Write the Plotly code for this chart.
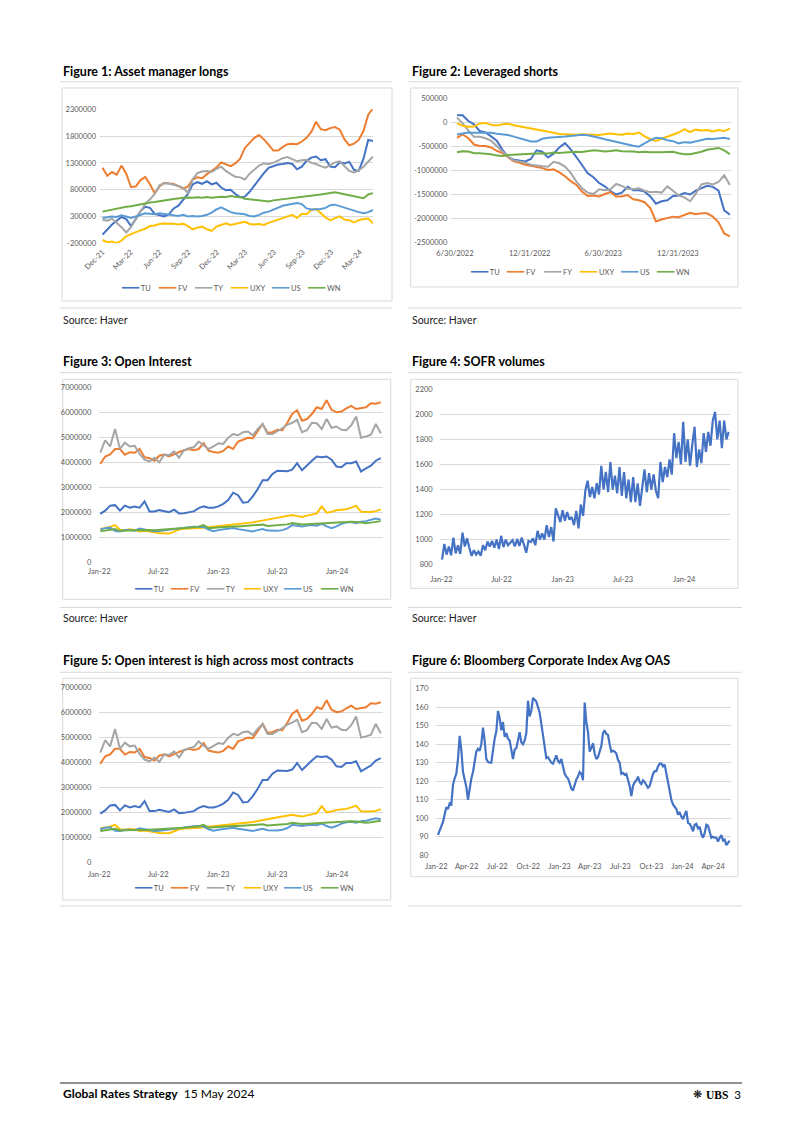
import pandas as pd
import plotly.graph_objects as go

W, H = 802, 1134
FONT = "Lato"
TXT = "#595959"
GRID = "#d9d9d9"
COL = {"TU": "#4472C4", "FV": "#ED7D31", "TY": "#A5A5A5", "FY": "#A5A5A5",
       "UXY": "#FFC000", "US": "#5B9BD5", "WN": "#70AD47"}

# ---------------- Figure 1: Asset manager longs (thousands of contracts, semi-monthly)
f1_TU = [-40, 60, 150, 220, 290, 250, 120, 250, 400, 480, 460, 350, 320, 300, 340, 450, 500, 600, 720, 900,
         940, 910, 960, 900, 930, 840, 790, 800, 720, 660, 670, 760, 880, 1000, 1110, 1210, 1240, 1270, 1280, 1300,
         1280, 1180, 1230, 1340, 1400, 1420, 1350, 1370, 1230, 1220, 1310, 1290, 1320, 1170, 1150, 1380, 1730, 1710]
f1_FV = [1210, 1060, 1130, 1080, 1250, 1100, 850, 860, 980, 1040, 900, 730, 860, 930, 915, 905, 865, 820, 860, 990,
         1030, 1015, 1090, 1150, 1215, 1310, 1280, 1240, 1290, 1380, 1580, 1680, 1770, 1820, 1740, 1640, 1530, 1530, 1600, 1650,
         1660, 1650, 1700, 1770, 1880, 2070, 1930, 1910, 1950, 1970, 1920, 1740, 1630, 1660, 1730, 1900, 2200, 2320]
f1_TY = [240, 220, 260, 180, 100, 0, 100, 250, 400, 530, 620, 720, 880, 920, 915, 890, 870, 830, 740, 990,
         1110, 1140, 1150, 1130, 1190, 1230, 1150, 1090, 1040, 1030, 990, 1100, 1180, 1250, 1290, 1280, 1300, 1350, 1390, 1410,
         1370, 1330, 1350, 1360, 1300, 1280, 1240, 1210, 1260, 1310, 1330, 1230, 1150, 1120, 1160, 1230, 1330, 1420]
f1_UXY = [-140, -180, -170, -200, -150, -70, -30, 10, 40, 70, 120, 130, 160, 170, 170, 165, 150, 165, 120, 60,
          90, 110, 60, 30, 110, 140, 170, 140, 160, 190, 200, 160, 150, 160, 140, 180, 210, 240, 270, 300,
          330, 270, 350, 340, 420, 440, 360, 280, 230, 270, 300, 240, 230, 190, 230, 250, 260, 170]
f1_US = [270, 280, 300, 290, 320, 300, 270, 300, 330, 360, 350, 340, 360, 350, 340, 330, 310, 330, 300, 310,
         300, 310, 330, 370, 430, 470, 420, 380, 360, 350, 340, 310, 300, 330, 370, 390, 430, 470, 500, 520,
         540, 550, 530, 450, 430, 430, 440, 460, 510, 520, 490, 460, 430, 410, 380, 360, 380, 420]
f1_WN = [390, 410, 430, 450, 470, 480, 490, 510, 520, 540, 560, 570, 580, 600, 610, 625, 640, 650, 655, 650,
         660, 650, 665, 650, 660, 670, 665, 680, 670, 660, 630, 620, 610, 600, 590, 580, 600, 610, 620, 630,
         640, 650, 660, 670, 680, 690, 710, 725, 740, 750, 735, 715, 700, 670, 650, 640, 710, 735]
f1_names = ["TU", "FV", "TY", "UXY", "US", "WN"]
f1_xticks = ["2021-12-01", "2022-03-01", "2022-06-01", "2022-09-01", "2022-12-01", "2023-03-01",
             "2023-06-01", "2023-09-01", "2023-12-01", "2024-03-01"]
f1_xlabels = ["Dec-21", "Mar-22", "Jun-22", "Sep-22", "Dec-22", "Mar-23", "Jun-23", "Sep-23", "Dec-23", "Mar-24"]
f1_yticks = [-200000, 300000, 800000, 1300000, 1800000, 2300000]

# ---------------- Figure 2: Leveraged shorts (thousands, bi-weekly)
f2_TU = [150, 150, 30, -40, -180, -210, -290, -380, -570, -720, -775, -790, -810, -760, -580, -610, -730, -650, -520, -430,
         -560, -720, -885, -1060, -1140, -1260, -1330, -1430, -1500, -1460, -1340, -1410, -1410, -1440, -1540, -1690, -1640, -1620, -1530, -1520,
         -1470, -1500, -1420, -1370, -1320, -1340, -1420, -1830, -1920]
f2_FV = [-320, -250, -330, -460, -490, -490, -520, -590, -640, -720, -810, -840, -880, -900, -920, -950, -990, -975, -1040, -1120,
         -1220, -1300, -1440, -1530, -1520, -1540, -1490, -1450, -1540, -1540, -1510, -1600, -1620, -1660, -1780, -2060, -2020, -1990, -1960, -1970,
         -1920, -1880, -1910, -1890, -1890, -1960, -2080, -2310, -2370]
f2_FY = [100, -20, -170, -300, -300, -330, -380, -500, -620, -720, -790, -810, -840, -880, -900, -910, -920, -820, -850, -920,
         -1050, -1230, -1370, -1460, -1490, -1390, -1410, -1390, -1280, -1320, -1380, -1390, -1370, -1420, -1450, -1440, -1460, -1330, -1420, -1520,
         -1560, -1640, -1480, -1290, -1260, -1290, -1240, -1100, -1300]
f2_UXY = [-20, -70, -90, -85, -20, -10, -50, -65, -40, -30, -60, -80, -110, -135, -155, -160, -185, -215, -240, -250,
          -260, -255, -245, -250, -250, -260, -245, -230, -245, -255, -230, -240, -210, -290, -350, -385, -340, -300, -250, -210,
          -140, -200, -150, -170, -160, -190, -160, -180, -130]
f2_US = [-250, -225, -210, -215, -210, -220, -215, -235, -245, -260, -295, -330, -370, -395, -395, -340, -320, -315, -300, -295,
         -280, -265, -255, -265, -300, -320, -350, -380, -410, -435, -460, -485, -505, -430, -370, -320, -330, -370, -390, -435,
         -410, -420, -390, -360, -340, -345, -330, -320, -345]
f2_WN = [-620, -600, -605, -640, -640, -645, -660, -690, -700, -680, -670, -665, -660, -655, -645, -640, -645, -625, -635, -625,
         -615, -610, -615, -600, -580, -590, -605, -595, -580, -600, -595, -605, -620, -610, -620, -625, -620, -615, -610, -640,
         -660, -660, -640, -610, -570, -550, -530, -580, -660]
f2_names = ["TU", "FV", "FY", "UXY", "US", "WN"]
f2_xticks = ["2022-06-30", "2022-12-31", "2023-06-30", "2023-12-31"]
f2_xlabels = ["6/30/2022", "12/31/2022", "6/30/2023", "12/31/2023"]
f2_yticks = [-2500000, -2000000, -1500000, -1000000, -500000, 0, 500000]

# ---------------- Figures 3 & 5: Open interest (millions of contracts, semi-monthly)
oi_TU = [1.95, 2.08, 2.28, 2.30, 2.08, 2.28, 2.20, 2.25, 2.20, 2.45, 2.05, 2.05, 2.10, 2.07, 2.02, 2.12, 1.97, 1.98, 2.03, 2.05,
         2.18, 2.25, 2.20, 2.20, 2.25, 2.35, 2.50, 2.80, 2.70, 2.40, 2.42, 2.65, 2.95, 3.30, 3.30, 3.55, 3.68, 3.68, 3.66, 3.72,
         3.98, 3.70, 3.90, 4.08, 4.25, 4.22, 4.25, 4.12, 3.85, 3.82, 3.98, 3.98, 4.05, 3.65, 3.77, 3.88, 4.08, 4.18]
oi_FV = [3.95, 4.25, 4.33, 4.55, 4.55, 4.32, 4.42, 4.40, 4.55, 4.22, 4.18, 4.08, 4.28, 4.33, 4.25, 4.35, 4.43, 4.50, 4.55, 4.50,
         4.55, 4.78, 4.48, 4.43, 4.40, 4.47, 4.65, 4.55, 4.85, 4.92, 5.00, 4.98, 5.25, 5.55, 5.20, 5.22, 5.32, 5.30, 5.60, 5.95,
         6.10, 5.68, 5.75, 5.95, 6.22, 6.15, 6.50, 6.12, 6.02, 6.05, 6.18, 6.28, 6.15, 6.18, 6.22, 6.38, 6.36, 6.42]
oi_TY = [4.40, 4.90, 4.65, 5.35, 4.55, 4.80, 4.65, 4.68, 4.35, 4.12, 4.05, 4.20, 4.02, 4.33, 4.30, 4.45, 4.20, 4.50, 4.58, 4.62,
         4.85, 4.68, 4.55, 4.65, 4.78, 4.75, 5.00, 5.15, 5.10, 5.22, 5.25, 5.10, 5.35, 5.55, 5.15, 5.15, 5.25, 5.38, 5.52, 5.60,
         5.72, 5.22, 5.30, 5.60, 5.58, 5.35, 5.75, 5.40, 5.45, 5.32, 5.30, 5.50, 5.85, 5.00, 5.05, 5.12, 5.55, 5.18]
oi_UXY = [1.35, 1.38, 1.43, 1.50, 1.32, 1.30, 1.33, 1.31, 1.25, 1.27, 1.25, 1.21, 1.17, 1.15, 1.16, 1.24, 1.32, 1.35, 1.37, 1.38,
          1.38, 1.40, 1.42, 1.43, 1.45, 1.47, 1.50, 1.53, 1.56, 1.57, 1.58, 1.61, 1.65, 1.70, 1.72, 1.76, 1.79, 1.82, 1.84, 1.90,
          1.86, 1.83, 1.88, 1.93, 1.97, 2.25, 2.00, 2.03, 2.10, 2.12, 2.14, 2.20, 2.27, 2.04, 2.02, 2.03, 2.06, 2.13]
oi_US = [1.32, 1.38, 1.40, 1.26, 1.25, 1.30, 1.30, 1.28, 1.36, 1.32, 1.26, 1.25, 1.26, 1.29, 1.31, 1.32, 1.36, 1.40, 1.42, 1.44,
         1.45, 1.43, 1.32, 1.26, 1.30, 1.32, 1.36, 1.38, 1.34, 1.30, 1.27, 1.25, 1.30, 1.34, 1.28, 1.26, 1.27, 1.30, 1.37, 1.50,
         1.47, 1.45, 1.48, 1.50, 1.48, 1.55, 1.45, 1.38, 1.45, 1.55, 1.60, 1.62, 1.58, 1.64, 1.66, 1.70, 1.76, 1.72]
oi_WN = [1.25, 1.28, 1.30, 1.34, 1.27, 1.28, 1.29, 1.28, 1.30, 1.29, 1.30, 1.29, 1.30, 1.31, 1.32, 1.34, 1.36, 1.38, 1.40, 1.42,
         1.44, 1.50, 1.38, 1.40, 1.42, 1.43, 1.44, 1.45, 1.45, 1.46, 1.47, 1.48, 1.50, 1.52, 1.47, 1.48, 1.50, 1.52, 1.53, 1.58,
         1.55, 1.53, 1.54, 1.55, 1.56, 1.57, 1.58, 1.60, 1.62, 1.63, 1.65, 1.64, 1.63, 1.60, 1.58, 1.60, 1.62, 1.66]
oi_names = ["TU", "FV", "TY", "UXY", "US", "WN"]
oi_xticks = ["2022-01-01", "2022-07-01", "2023-01-01", "2023-07-01", "2024-01-01"]
oi_xlabels = ["Jan-22", "Jul-22", "Jan-23", "Jul-23", "Jan-24"]
oi_yticks = [0, 1000000, 2000000, 3000000, 4000000, 5000000, 6000000, 7000000]

# ---------------- Figure 4: SOFR volumes (weekly readings)
sofr = [840, 965, 880, 945, 875, 1015, 890, 955, 885, 1055, 945, 1010, 935, 870, 915, 880, 905, 870,
        955, 915, 985, 945, 990, 935, 1000, 925, 1030, 940, 1000, 955, 975, 995, 945, 1005, 950,
        1015, 960, 895, 990, 980, 1010, 955, 1070, 1000, 1050, 1000, 1115, 1020, 1100, 985, 1250, 1190,
        1140, 1235, 1150, 1220, 1160, 1180, 1115, 1230, 1090, 1280, 1190, 1390, 1470, 1340,
        1420, 1330, 1450, 1360, 1590, 1400, 1540, 1380, 1620, 1400, 1510, 1370, 1580,
        1350, 1540, 1330, 1480, 1300, 1500, 1300, 1450, 1270, 1400, 1560, 1380, 1530, 1400,
        1520, 1390, 1330, 1620, 1460, 1580, 1500, 1640, 1520, 1850, 1650, 1780, 1600,
        1940, 1620, 1800, 1590, 1760, 1900, 1580, 1720, 1610, 1850, 1700, 1860, 1750, 1950,
        2020, 1800, 1950, 1730, 1950, 1800, 1860]
sofr_xticks = oi_xticks
sofr_xlabels = oi_xlabels
sofr_yticks = [800, 1000, 1200, 1400, 1600, 1800, 2000, 2200]

# ---------------- Figure 6: Bloomberg Corporate Index Avg OAS (bp)
oas = [91, 93, 95.5, 98, 102, 106, 105, 108, 107.5, 118,
       121.5, 124, 132, 144.5, 137, 125, 121, 117, 110, 116,
       121.5, 125, 131.5, 136, 137.5, 136.5, 140, 149, 142, 132,
       130.5, 130, 130, 137.5, 143, 147, 158, 154, 147.5, 152,
       144, 146, 143, 142, 136, 132, 137, 138, 142, 146.5,
       141, 140, 142, 146, 163.5, 155, 158, 165, 164, 163,
       160, 157, 151, 145, 138, 132.5, 133, 131.5, 130, 129.5,
       131.5, 134, 131, 130, 132, 128, 124, 122.5, 121.5, 119,
       116, 115, 118.5, 121, 122.5, 125, 124, 120.5, 162.5, 152,
       146.5, 136, 138, 140.5, 135, 132, 133, 136, 139, 146,
       147.5, 145.5, 145, 140, 136, 136.5, 136, 135, 131.5, 130,
       124, 124.5, 123.5, 124, 121, 117.5, 112, 117.5, 119.5, 120.5,
       122.5, 119.5, 118.5, 120.5, 119.5, 118, 116.5, 117.5, 121.5, 124,
       125.5, 125.5, 128, 129.5, 129.5, 128, 129, 124, 120, 114,
       110, 107.5, 106, 105, 102, 103, 101, 99.5, 102, 104,
       97.5, 97, 95.5, 93, 96.5, 97, 94.5, 95.5, 91.5, 89.5,
       92, 96.5, 96, 92, 89.5, 90, 89.5, 89.5, 87.5, 89.5,
       91, 88, 88.5, 85.5, 86.5, 88]
oas_xticks = ["2022-01-01", "2022-04-01", "2022-07-01", "2022-10-01", "2023-01-01", "2023-04-01",
              "2023-07-01", "2023-10-01", "2024-01-01", "2024-04-01"]
oas_xlabels = ["Jan-22", "Apr-22", "Jul-22", "Oct-22", "Jan-23", "Apr-23", "Jul-23", "Oct-23", "Jan-24", "Apr-24"]
oas_yticks = [80, 90, 100, 110, 120, 130, 140, 150, 160, 170]

# ---------------- date indices
f1_dates = pd.date_range("2021-12-01", "2024-04-12", periods=len(f1_TU))
f2_dates = pd.date_range("2022-07-05", "2024-05-07", periods=len(f2_TU))
oi_dates = pd.date_range("2022-01-04", "2024-05-14", periods=len(oi_TU))
sofr_dates = pd.date_range("2022-01-03", "2024-05-14", periods=len(sofr))
oas_dates = pd.date_range("2022-01-06", "2024-05-20", periods=len(oas))


def PX(x):
    return x / W


def PY(y):
    return 1 - y / H


fig = go.Figure()
layout = {}
ann = []
shapes = []


def text(x, y, s, size, xanchor="left", family=FONT, color="#000000"):
    ann.append(dict(x=PX(x), y=PY(y), xref="paper", yref="paper", text=s, showarrow=False,
                    xanchor=xanchor, yanchor="middle", font=dict(family=family, size=size, color=color)))


def axes(n, xdom, ydom, xrange, xt, xl, yrange, yt, xangle=0, xstand=4, ystand=3):
    sx = "" if n == 1 else str(n)
    tf = dict(family=FONT, size=7.5, color=TXT)
    layout["xaxis" + sx] = dict(domain=[PX(xdom[0]), PX(xdom[1])], anchor="y" + sx, type="date",
                                range=xrange, tickvals=xt, ticktext=xl, tickangle=xangle,
                                showgrid=False, zeroline=False, showline=False, ticks="",
                                tickfont=tf, ticklabelstandoff=xstand, fixedrange=True, automargin=False)
    layout["yaxis" + sx] = dict(domain=[PY(ydom[0]), PY(ydom[1])], anchor="x" + sx,
                                range=yrange, tickvals=yt, ticktext=[str(v) for v in yt],
                                showgrid=True, gridcolor=GRID, gridwidth=1, zeroline=False,
                                showline=False, ticks="", tickfont=tf,
                                ticklabelstandoff=ystand, fixedrange=True, automargin=False)


def series(n, dates, vals, name, scale, width=2):
    sx = "" if n == 1 else str(n)
    fig.add_trace(go.Scatter(x=dates, y=[v * scale for v in vals], mode="lines", name=name,
                             line=dict(color=COL.get(name, COL["TU"]), width=width),
                             xaxis="x" + sx, yaxis="y" + sx, showlegend=False, hoverinfo="skip"))


def key_row(x_start, y, names):
    # compact Excel-style legend row: short coloured key followed by the series name
    x = x_start
    for nm in names:
        text(x, y, "<span style='font-family:DejaVu Sans;font-size:9.5px;color:%s'>━━━</span> %s"
             % (COL[nm], nm), 7.5, color=TXT)
        x += 20 + 4.4 * len(nm) + 7.5


# Figure 1
axes(1, (100, 373.3), (243.3, 109.3), ["2021-11-23", "2024-04-13"], f1_xticks, f1_xlabels,
     [-200000 - 2000, 2300000 + 2000], f1_yticks, xangle=-45, xstand=2, ystand=3)
for nm, v in zip(f1_names, [f1_TU, f1_FV, f1_TY, f1_UXY, f1_US, f1_WN]):
    series(1, f1_dates, v, nm, 1000)
key_row(119.3, 287.7, f1_names)

# Figure 2
axes(2, (451.3, 730.7), (242.7, 98.3), ["2022-06-21", "2024-05-09"], f2_xticks, f2_xlabels,
     [-2500000 - 2000, 500000 + 2000], f2_yticks, xstand=5, ystand=3)
for nm, v in zip(f2_names, [f2_TU, f2_FV, f2_FY, f2_UXY, f2_US, f2_WN]):
    series(2, f2_dates, v, nm, 1000)
key_row(468, 271.7, f2_names)

# Figure 3
axes(3, (99.3, 382.7), (562.7, 387.7), ["2022-01-01", "2024-05-20"], oi_xticks, oi_xlabels,
     [-5000, 7005000], oi_yticks, xstand=3, ystand=7)
for nm, v in zip(oi_names, [oi_TU, oi_FV, oi_TY, oi_UXY, oi_US, oi_WN]):
    series(3, oi_dates, v, nm, 1e6)
key_row(131.7, 588.3, oi_names)

# Figure 4
axes(4, (439.7, 729.7), (565, 389), ["2021-12-27", "2024-05-17"], sofr_xticks, sofr_xlabels,
     [797, 2203], sofr_yticks, xstand=8, ystand=6)
series(4, sofr_dates, sofr, "TU", 1, width=2.2)

# Figure 5
axes(5, (99.3, 382.7), (862.3, 687.7), ["2022-01-01", "2024-05-20"], oi_xticks, oi_xlabels,
     [-5000, 7005000], oi_yticks, xstand=6, ystand=7)
for nm, v in zip(oi_names, [oi_TU, oi_FV, oi_TY, oi_UXY, oi_US, oi_WN]):
    series(5, oi_dates, v, nm, 1e6)
key_row(131.7, 887.7, oi_names)

# Figure 6
axes(6, (436.3, 730.7), (855.7, 688.3), ["2022-01-01", "2024-05-23"], oas_xticks, oas_xlabels,
     [79.8, 170.2], oas_yticks, xstand=5, ystand=7)
series(6, oas_dates, oas, "TU", 1, width=2.2)

# ---------------- page furniture
text(61, 71, "<b>Figure 1: Asset manager longs</b>", 12.5)
text(410, 71, "<b>Figure 2: Leveraged shorts</b>", 12.5)
text(61, 361.7, "<b>Figure 3: Open Interest</b>", 12.5)
text(410, 361.7, "<b>Figure 4: SOFR volumes</b>", 12.5)
text(61, 660.7, "<b>Figure 5: Open interest is high across most contracts</b>", 12.5)
text(410, 660.7, "<b>Figure 6: Bloomberg Corporate Index Avg OAS</b>", 12.5)
for (x, y) in [(61, 320), (410, 320), (61, 617.5), (410, 617.5)]:
    text(x, y, "Source: Haver", 10.5, color="#222222")
text(61, 1093, "<b>Global Rates Strategy</b>  15 May 2024", 12)
text(743, 1094, "<span style='font-family:Liberation Serif'><b>UBS</b></span>  3", 11.5, xanchor="right")
text(704, 1094, "❋", 11, xanchor="right", family="DejaVu Sans")


def hline(x0, x1, y, color="#d9d9d9", w=1):
    shapes.append(dict(type="line", xref="paper", yref="paper", x0=PX(x0), x1=PX(x1), y0=PY(y), y1=PY(y),
                       line=dict(color=color, width=w)))


def box(x0, y0, x1, y1):
    shapes.append(dict(type="rect", xref="paper", yref="paper", x0=PX(x0), x1=PX(x1), y0=PY(y1), y1=PY(y0),
                       line=dict(color="#d9d9d9", width=1), fillcolor="rgba(0,0,0,0)", layer="below"))


for y in [81.7, 372.7, 672.3, 308, 607.5, 906]:
    hline(60, 392, y)
    hline(408, 742, y)
hline(60, 742, 1083, color="#222222", w=1)
box(62, 88, 392, 301)
box(410.7, 88, 738, 287)
box(62.7, 379.3, 390.7, 599.3)
box(410.7, 379.3, 738, 588.3)
box(62.7, 678.3, 390.7, 900)
box(410.7, 678.3, 738, 876.7)

layout.update(dict(width=W, height=H, margin=dict(l=0, r=0, t=0, b=0, autoexpand=False),
                   paper_bgcolor="white", plot_bgcolor="white", annotations=ann, shapes=shapes,
                   hovermode=False, showlegend=False, font=dict(family=FONT, color=TXT)))
fig.update_layout(**layout)
fig.write_html("out.html", config={"displayModeBar": False},
               post_script="document.body.style.margin='0';document.body.style.overflow='hidden';")
